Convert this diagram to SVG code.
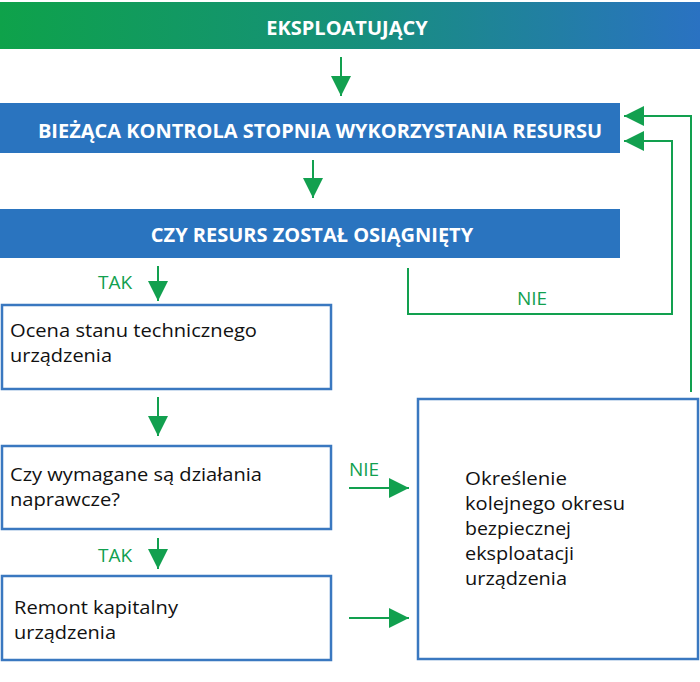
<svg xmlns="http://www.w3.org/2000/svg" width="700" height="682" viewBox="0 0 700 682">
<defs>
<linearGradient id="g" x1="0" y1="0" x2="1" y2="0">
<stop offset="0" stop-color="#0ea24a"/>
<stop offset="0.5" stop-color="#16907a"/>
<stop offset="1" stop-color="#2a72c2"/>
</linearGradient>
<marker id="ah" markerUnits="userSpaceOnUse" markerWidth="20" markerHeight="20" refX="20" refY="10" orient="auto">
<path d="M0,0 L20,10 L0,20 Z" fill="#12a04f"/>
</marker>
<style>
.hd{font-family:"Open Sans","Noto Sans","DejaVu Sans",sans-serif;font-weight:bold;font-size:20px;fill:#fff;text-anchor:middle}
.bx{fill:#fff;stroke:#3a78c0;stroke-width:2.5}
.tx{font-family:"Open Sans","Noto Sans","DejaVu Sans",sans-serif;font-size:18.3px;fill:#111}
.lb{font-family:"Open Sans","Noto Sans","DejaVu Sans",sans-serif;font-size:19px;fill:#12a04f}
.cn{fill:none;stroke:#12a04f;stroke-width:2}
.blue{fill:#2a74bf}
</style>
</defs>
<rect width="700" height="682" fill="#fff"/>
<g id="n-eksploatujacy">
<rect x="0" y="2" width="700" height="47" fill="url(#g)"/>
<text class="hd" x="347" y="35">EKSPLOATUJĄCY</text>
</g>
<g id="n-biezaca">
<rect class="blue" x="0" y="103" width="620" height="50"/>
<text class="hd" x="320" y="138">BIEŻĄCA KONTROLA STOPNIA WYKORZYSTANIA RESURSU</text>
</g>
<g id="n-czy-resurs">
<rect class="blue" x="0" y="209" width="620" height="49"/>
<text class="hd" x="312" y="242">CZY RESURS ZOSTAŁ OSIĄGNIĘTY</text>
</g>
<g id="n-ocena">
<rect class="bx" x="2" y="305" width="329" height="84"/>
<text class="tx" x="10" y="337" textLength="247" lengthAdjust="spacingAndGlyphs">Ocena stanu technicznego</text>
<text class="tx" x="10" y="362" textLength="102" lengthAdjust="spacingAndGlyphs">urządzenia</text>
</g>
<g id="n-czy-wymagane">
<rect class="bx" x="2" y="446" width="329" height="83"/>
<text class="tx" x="10" y="481" textLength="252" lengthAdjust="spacingAndGlyphs">Czy wymagane są działania</text>
<text class="tx" x="10" y="506" textLength="110" lengthAdjust="spacingAndGlyphs">naprawcze?</text>
</g>
<g id="n-remont">
<rect class="bx" x="2" y="576" width="329" height="84"/>
<text class="tx" x="14" y="614" textLength="164" lengthAdjust="spacingAndGlyphs">Remont kapitalny</text>
<text class="tx" x="14" y="639" textLength="102" lengthAdjust="spacingAndGlyphs">urządzenia</text>
</g>
<g id="n-okreslenie">
<rect class="bx" x="418" y="399" width="280" height="260"/>
<text class="tx" x="465" y="485" textLength="102" lengthAdjust="spacingAndGlyphs">Określenie</text>
<text class="tx" x="465" y="510" textLength="160" lengthAdjust="spacingAndGlyphs">kolejnego okresu</text>
<text class="tx" x="465" y="535" textLength="106" lengthAdjust="spacingAndGlyphs">bezpiecznej</text>
<text class="tx" x="465" y="560" textLength="109" lengthAdjust="spacingAndGlyphs">eksploatacji</text>
<text class="tx" x="465" y="585" textLength="102" lengthAdjust="spacingAndGlyphs">urządzenia</text>
</g>
<g id="connectors">
<path class="cn" d="M341,57 V96" marker-end="url(#ah)"/>
<path class="cn" d="M313,160 V198" marker-end="url(#ah)"/>
<path class="cn" d="M158,266 V301" marker-end="url(#ah)"/>
<path class="cn" d="M158,397 V436" marker-end="url(#ah)"/>
<path class="cn" d="M158,538 V569" marker-end="url(#ah)"/>
<path class="cn" d="M349,488 H409" marker-end="url(#ah)"/>
<path class="cn" d="M349,618 H409" marker-end="url(#ah)"/>
<path class="cn" d="M408,268 V314 H672 V141 H624" marker-end="url(#ah)"/>
<path class="cn" d="M691,392 V116 H624" marker-end="url(#ah)"/>
<text class="lb" x="98" y="289">TAK</text>
<text class="lb" x="98" y="562">TAK</text>
<text class="lb" x="349" y="476">NIE</text>
<text class="lb" x="517" y="305">NIE</text>
</g>
</svg>
